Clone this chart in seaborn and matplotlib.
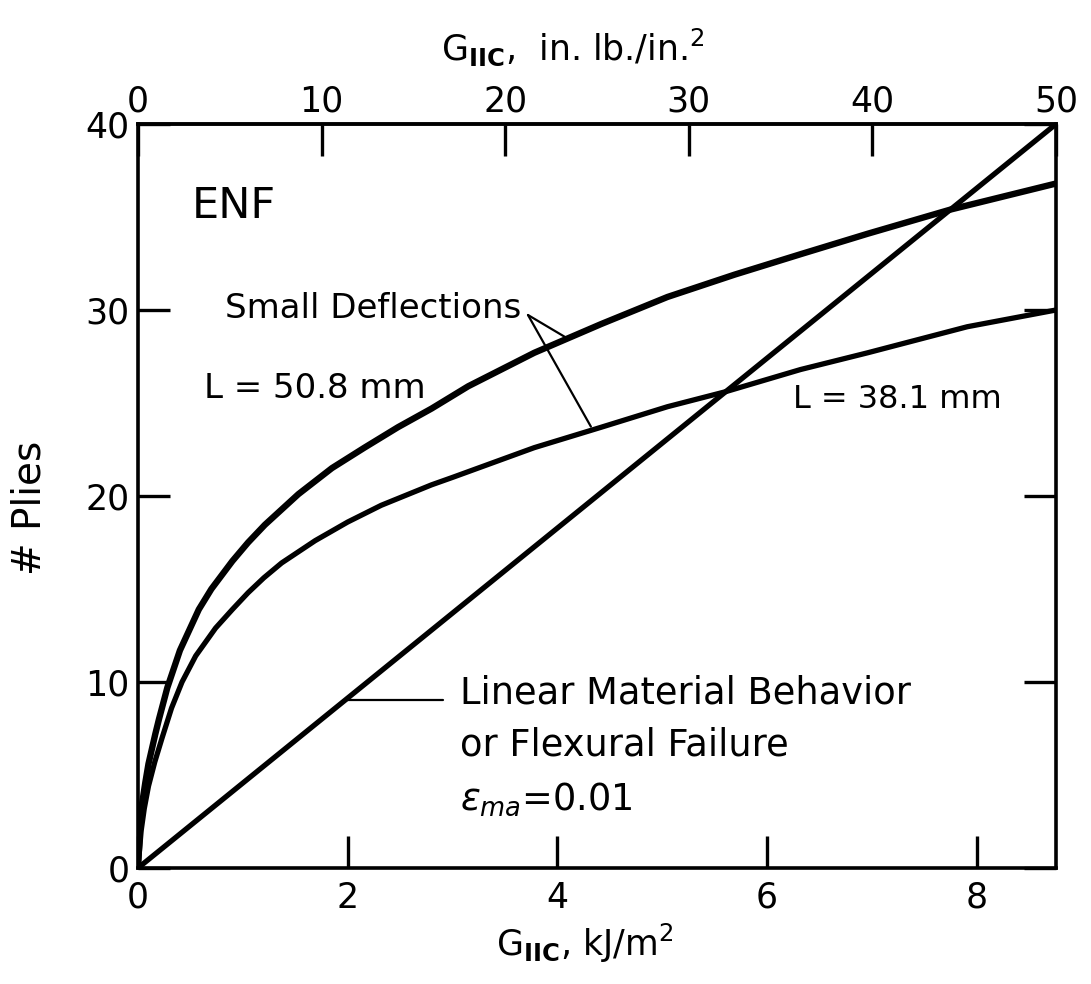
import matplotlib
matplotlib.use("Agg")
import matplotlib.pyplot as plt
import seaborn as sns
import pandas as pd

# ---- data ----
g_upper = [0, 0.02, 0.04, 0.07, 0.1, 0.165, 0.2, 0.28, 0.4, 0.58, 0.7, 0.9, 1.05,
           1.21, 1.53, 1.85, 2.16, 2.48, 2.8, 3.15, 3.78, 4.42, 5.05, 5.69,
           6.32, 6.96, 7.75, 8.7565]
n_upper = [0, 2.2, 3.5, 4.6, 5.6, 7.2, 8.0, 9.7, 11.7, 13.9, 15.0, 16.5, 17.5,
           18.45, 20.1, 21.5, 22.6, 23.7, 24.7, 25.9, 27.7, 29.25, 30.7, 31.9,
           33.0, 34.1, 35.4, 36.8]

g_lower = [0, 0.03, 0.06, 0.1, 0.16, 0.23, 0.32, 0.42, 0.55, 0.74, 0.9, 1.05,
           1.2, 1.37, 1.69, 2.0, 2.32, 2.8, 3.0, 3.78, 4.42, 5.05, 5.6, 6.32,
           6.96, 7.91, 8.7565]
n_lower = [0, 2.0, 3.2, 4.4, 5.7, 7.0, 8.6, 10.0, 11.4, 12.9, 13.9, 14.8,
           15.6, 16.4, 17.6, 18.6, 19.5, 20.6, 21.0, 22.6, 23.7, 24.8, 25.6,
           26.8, 27.7, 29.1, 30.0]

g_linear = [0, 8.7565]
n_linear = [0, 40]

x_ticks = [0, 2, 4, 6, 8]
y_ticks = [0, 10, 20, 30, 40]
top_ticks = [0, 10, 20, 30, 40, 50]
KJ_PER_INLB = 0.175127  # 1 in.lb/in^2 in kJ/m^2

sns.set_theme(style="white")
plt.rcParams["font.family"] = ["DejaVu Sans"]
plt.rcParams["mathtext.fontset"] = "dejavusans"
plt.rcParams["text.color"] = "black"
plt.rcParams["axes.labelcolor"] = "black"
plt.rcParams["xtick.color"] = "black"
plt.rcParams["ytick.color"] = "black"

fig = plt.figure(figsize=(10.91, 9.84), dpi=100)
ax = fig.add_axes([138 / 1091, 1 - 868 / 984, (1056 - 138) / 1091, (868 - 124) / 984])

df_u = pd.DataFrame({"G": g_upper, "N": n_upper})
df_l = pd.DataFrame({"G": g_lower, "N": n_lower})
df_s = pd.DataFrame({"G": g_linear, "N": n_linear})
kw = dict(color="black", sort=False, solid_joinstyle="round", solid_capstyle="round")
sns.lineplot(data=df_u, x="G", y="N", ax=ax, lw=4.6, **kw)
sns.lineplot(data=df_l, x="G", y="N", ax=ax, lw=3.8, **kw)
sns.lineplot(data=df_s, x="G", y="N", ax=ax, lw=3.8, **kw)

ax.set_xlim(0, 50 * KJ_PER_INLB)
ax.set_ylim(0, 40)
ax.set_xticks(x_ticks)
ax.set_yticks(y_ticks)
for s in ax.spines.values():
    s.set_linewidth(2.6)
    s.set_color("black")

ax.tick_params(axis="both", which="major", direction="in", length=23, width=2.4,
               colors="black", labelsize=25, left=True, bottom=True)
ax.tick_params(axis="x", pad=9)
ax.tick_params(axis="y", pad=6, right=True)

secx = ax.secondary_xaxis("top", functions=(lambda x: x / KJ_PER_INLB,
                                            lambda x: x * KJ_PER_INLB))
secx.set_xticks(top_ticks)
secx.tick_params(direction="in", length=23, width=2.4, labelsize=25, pad=4,
                 colors="black", top=True)
secx.spines["top"].set_linewidth(2.6)

ax.set_xlabel(r"G$_{\mathbf{IIC}}$, kJ/m$^2$", fontsize=25)
ax.xaxis.set_label_coords(0.487, -0.072)
ax.set_ylabel("# Plies", fontsize=28)
ax.yaxis.set_label_coords(-0.098, 0.484)
fig.text(0.525, 0.952, r"G$_{\mathbf{IIC}}$,  in. lb./in.$^2$", fontsize=25,
         ha="center", va="center")

# annotations
ax.text(0.51, 35.6, "ENF", fontsize=31, ha="left", va="center")
ax.text(0.83, 30.1, "Small Deflections", fontsize=24.5, ha="left", va="center")
ax.text(0.63, 25.8, "L = 50.8 mm", fontsize=24.5, ha="left", va="center")
ax.text(6.25, 25.2, "L = 38.1 mm", fontsize=23, ha="left", va="center")
ax.text(3.07, 9.4, "Linear Material Behavior", fontsize=26.5, ha="left", va="center")
ax.text(3.07, 6.6, "or Flexural Failure", fontsize=26.5, ha="left", va="center")
ax.text(3.07, 3.7, r"$\epsilon_{ma}$=0.01", fontsize=26.5, ha="left", va="center")

# leader lines
ax.plot([3.72, 4.07], [29.73, 28.56], color="black", lw=1.6)
ax.plot([3.72, 4.32], [29.73, 23.73], color="black", lw=1.6)
ax.plot([1.98, 2.91], [9.05, 9.05], color="black", lw=1.6)

fig.savefig("out.png", dpi=100, facecolor="white")
